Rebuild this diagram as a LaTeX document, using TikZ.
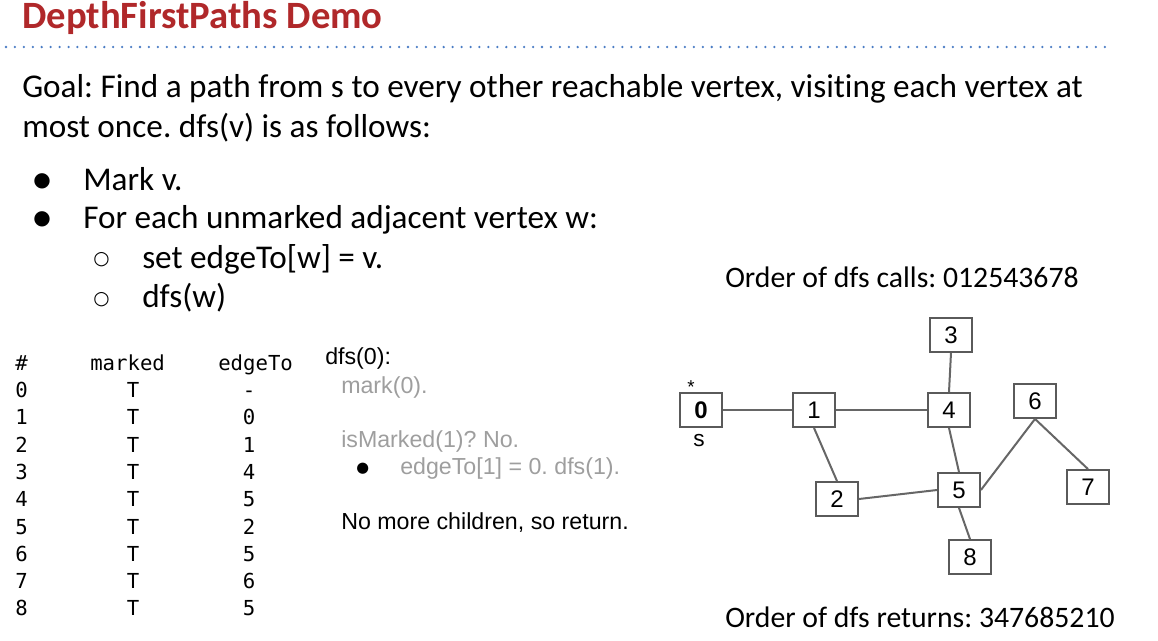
\documentclass[tikz,border=0pt]{standalone}
\usepackage{fontspec}
\setmainfont[Ligatures=NoCommon]{Carlito}
\newfontfamily\arialf{Liberation Sans}
\newfontfamily\monof{DejaVu Sans Mono}
\newfontfamily\symf{DejaVu Sans}
\definecolor{titlered}{HTML}{B0282A}
\definecolor{rulebl}{HTML}{4A7CC4}
\definecolor{stepgray}{HTML}{9E9E9E}
\definecolor{boxgray}{HTML}{5A5A5A}
\definecolor{edgegray}{HTML}{666666}
\frenchspacing
\begin{document}
\begin{tikzpicture}[x=0.75pt,y=-0.75pt,
  txt/.style={anchor=base west,inner sep=0pt},
  goal/.style={txt,font=\fontsize{24.9}{28}\selectfont},
  order/.style={txt,font=\fontsize{22.3}{26}\selectfont},
  tab/.style={anchor=base,inner sep=0pt,font=\monof\fontsize{15.5}{18}\selectfont},
  tabl/.style={tab,anchor=base west},
  trace/.style={txt,font=\arialf\fontsize{17.4}{20}\selectfont},
  vert/.style={draw=boxgray,line width=1.4pt,minimum width=31.5pt,minimum height=25.5pt,inner sep=0pt,font=\arialf\fontsize{18}{20}\selectfont},
  edge/.style={draw=edgegray,line width=1.5pt}]
\useasboundingbox (0,0) rectangle (1158,640);

% heading and rule
\node[txt,font=\bfseries\fontsize{29}{34}\selectfont,text=titlered] (title) at (22,28) {DepthFirstPaths Demo};
\draw[rulebl,line width=1.9pt,line cap=round,dash pattern=on 0pt off 6.7pt] (6,47) -- (1110,47);

% goal statement
\node[goal] (g1) at (22,97) {Goal: Find a path from s to every other reachable vertex, visiting each vertex at};
\node[goal] (g2) at (22,137) {most once. dfs(v) is as follows:};
\node[txt,font=\symf\fontsize{15}{18}\selectfont] (b1) at (33,186) {●};
\node[goal] (l1) at (83,190) {Mark v.};
\node[txt,font=\symf\fontsize{15}{18}\selectfont] (b2) at (33,224) {●};
\node[goal] (l2) at (83,228) {For each unmarked adjacent vertex w:};
\node[txt,font=\symf\fontsize{14}{18}\selectfont] (b3) at (93,264) {○};
\node[goal] (l3) at (142,268) {set edgeTo[w] = v.};
\node[txt,font=\symf\fontsize{14}{18}\selectfont] (b4) at (93,304) {○};
\node[goal] (l4) at (142,307) {dfs(w)};

% marked / edgeTo table
\node[tabl] (h0) at (15,370) {\#};
\node[tabl] (h1) at (90,370) {marked};
\node[tabl] (h2) at (218,370) {edgeTo};
\foreach \v/\e [count=\i from 0] in {0/-,1/0,2/1,3/4,4/5,5/2,6/5,7/6,8/5}{
  \node[tabl] (r\i) at (15,397.5+27.3*\i) {\v};
  \node[tab] (m\i) at (133,397.5+27.3*\i) {T};
  \node[tab] (e\i) at (249,397.5+27.3*\i) {\e};
}

% trace of the call
\node[trace] (t0) at (325,364) {dfs(0):};
\node[trace,text=stepgray] (t1) at (341,393) {mark(0).};
\node[trace,text=stepgray] (t2) at (341,447) {isMarked(1)? No.};
\node[txt,font=\symf\fontsize{11}{12}\selectfont] (tb) at (356,472) {●};
\node[trace,text=stepgray] (t3) at (400,474) {edgeTo[1] = 0. dfs(1).};
\node[trace] (t4) at (341,529) {No more children, so return.};

% orders
\node[order] (oc) at (725,287) {Order of dfs calls: 012543678};
\node[order] (orr) at (725,627) {Order of dfs returns: 347685210};

% graph
\node[vert] (v0) at (701,410) {\bfseries 0};
\node[vert] (v1) at (814,410) {1};
\node[vert] (v2) at (837,499) {2};
\node[vert] (v3) at (951,335) {3};
\node[vert] (v4) at (949,410) {4};
\node[vert] (v5) at (959,490) {5};
\node[vert] (v6) at (1035,401) {6};
\node[vert] (v7) at (1088,487) {7};
\node[vert] (v8) at (970,557) {8};
\node[inner sep=0pt,font=\arialf\fontsize{14}{15}\selectfont] (star) at (691,387) {*};
\node[inner sep=0pt,font=\arialf\fontsize{17}{18}\selectfont] (slab) at (699,441) {s};

\draw[edge] (v0.east) -- (v1.west);
\draw[edge] (v1.east) -- (v4.west);
\draw[edge] (v1.south) -- (v2.north);
\draw[edge] (v4.north) -- (v3.south);
\draw[edge] (v4.south) -- (v5.north);
\draw[edge] (v2.east) -- (v5.west);
\draw[edge] (v5.east) -- (v6.south);
\draw[edge] (v6.south) -- (v7.north);
\draw[edge] (v5.south) -- (v8.north);
\end{tikzpicture}
\end{document}
